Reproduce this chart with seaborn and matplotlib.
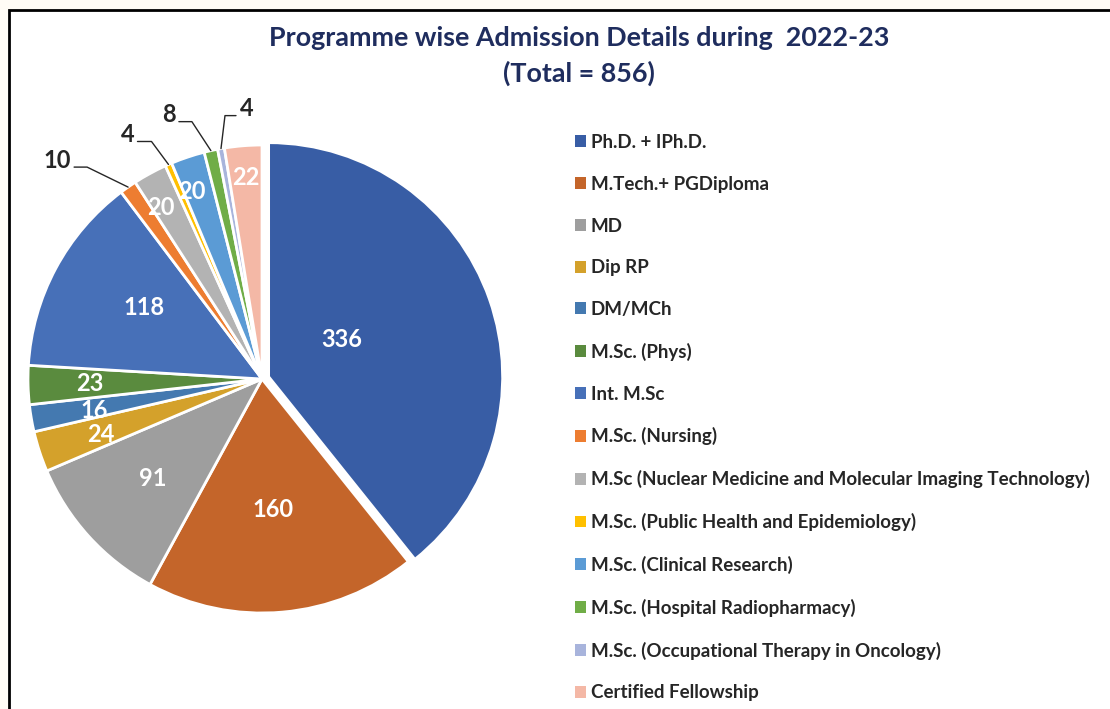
import numpy as np
import matplotlib
matplotlib.use("Agg")
import matplotlib.pyplot as plt
import matplotlib.patches as mpatches
import seaborn as sns

sns.set_theme(style="white")
plt.rcParams['font.family'] = ['Lato', 'DejaVu Sans']

# data
programmes = ["Ph.D. + IPh.D.", "M.Tech.+ PGDiploma", "MD", "Dip RP", "DM/MCh",
              "M.Sc. (Phys)", "Int. M.Sc", "M.Sc. (Nursing)",
              "M.Sc (Nuclear Medicine and Molecular Imaging Technology)",
              "M.Sc. (Public Health and Epidemiology)", "M.Sc. (Clinical Research)",
              "M.Sc. (Hospital Radiopharmacy)", "M.Sc. (Occupational Therapy in Oncology)",
              "Certified Fellowship"]
admissions = [336, 160, 91, 24, 16, 23, 118, 10, 20, 4, 20, 8, 4, 22]
colours = ["#385DA5", "#C4652A", "#9E9E9E", "#D4A12B", "#4479B0", "#5A8B3E",
           "#4770B8", "#ED7D31", "#B3B3B3", "#FFC000", "#5B9BD5", "#70AD47",
           "#A8B4DC", "#F4B8A6"]

W, H = 1110, 709
fig = plt.figure(figsize=(W / 100, H / 100), dpi=100)
fig.patch.set_facecolor("#FFFCF5")

# white frame with black border (runs off the right/bottom edge)
frame = mpatches.Rectangle((9 / W, -0.05), 1.2, 1 - 10 / H + 0.05, transform=fig.transFigure,
                           facecolor="white", edgecolor="black", linewidth=2, zorder=-10)
fig.patches.append(frame)

# pie axes, placed in pixels
cx, cy, R = 262, 379, 234
k = 1.2
ax = fig.add_axes([(cx - k * R) / W, (H - cy - k * R) / H, 2 * k * R / W, 2 * k * R / H])
ax.set_facecolor("none")
ax.set_zorder(5)

explode = [0.03] + [0] * (len(admissions) - 1)
wedges, _ = ax.pie(admissions, colors=colours, startangle=90, counterclock=False,
                   explode=explode, radius=1,
                   wedgeprops=dict(edgecolor="white", linewidth=2))
ax.set_xlim(-k, k)
ax.set_ylim(-k, k)
ax.axis("off")

# label placement (radius as fraction of pie radius, small angle nudge; None = outside label)
label_r = [0.38, 0.56, 0.63, 0.73, 0.73, 0.735, 0.59, None, 0.85, None, 0.855, None, None, 0.865]
label_da = [7, 0, 0, 1, 1, 0, -3, 0, 2, 0, 2, 0, 0, 0]
total = sum(admissions)
cum = np.cumsum([0] + admissions[:-1])
mids = 90 - (cum + np.array(admissions) / 2) / total * 360

# outside leaders: (elbow offset px, horizontal length px, text side)
leaders = {7: ((-41, 20), -13, "right"),
           9: ((-17, 23), -14, "right"),
           11: ((-19, 29), -13, "right"),
           12: ((4, 33), 11, "left")}

for i, v in enumerate(admissions):
    if label_r[i] is not None:
        a = np.deg2rad(mids[i] + label_da[i])
        r = label_r[i]
        ax.text(r * np.cos(a), r * np.sin(a), str(v), ha="center", va="center",
                color="white", fontsize=17, fontweight="bold")
    else:
        a = np.deg2rad(mids[i])
        (ex, ey), hl, side = leaders[i]
        x0, y0 = np.cos(a), np.sin(a)
        x1, y1 = x0 + ex / R, y0 + ey / R
        x2 = x1 + hl / R
        ax.plot([x0, x1, x2], [y0, y1, y1], color="#262626", lw=1, clip_on=False)
        tx = x2 - 3 / R if side == "right" else x2 + 4 / R
        ax.text(tx, y1 + 7 / R, str(v), ha=side, va="center", color="#262626",
                fontsize=17, fontweight="bold")

# titles
fig.text(579 / W, 1 - 38 / H, "Programme wise Admission Details during  2022-23",
         ha="center", va="center", fontsize=19.4, fontweight="bold", color="#1F2D5E")
fig.text(579 / W, 1 - 73 / H, "(Total = 856)",
         ha="center", va="center", fontsize=19.4, fontweight="bold", color="#1F2D5E")

# legend
handles = [mpatches.Patch(facecolor=c, edgecolor="none") for c in colours]
leg = fig.legend(handles, programmes, loc="upper left",
                 bbox_to_anchor=(575 / W, 1 - 134 / H), frameon=False,
                 borderpad=0, borderaxespad=0, handlelength=0.59, handleheight=0.59,
                 handletextpad=0.25, labelspacing=1.32,
                 prop=dict(family="Lato", weight="bold", size=13.5))
for t in leg.get_texts():
    t.set_color("#262626")

fig.savefig("out.png", dpi=100, facecolor=fig.get_facecolor())
